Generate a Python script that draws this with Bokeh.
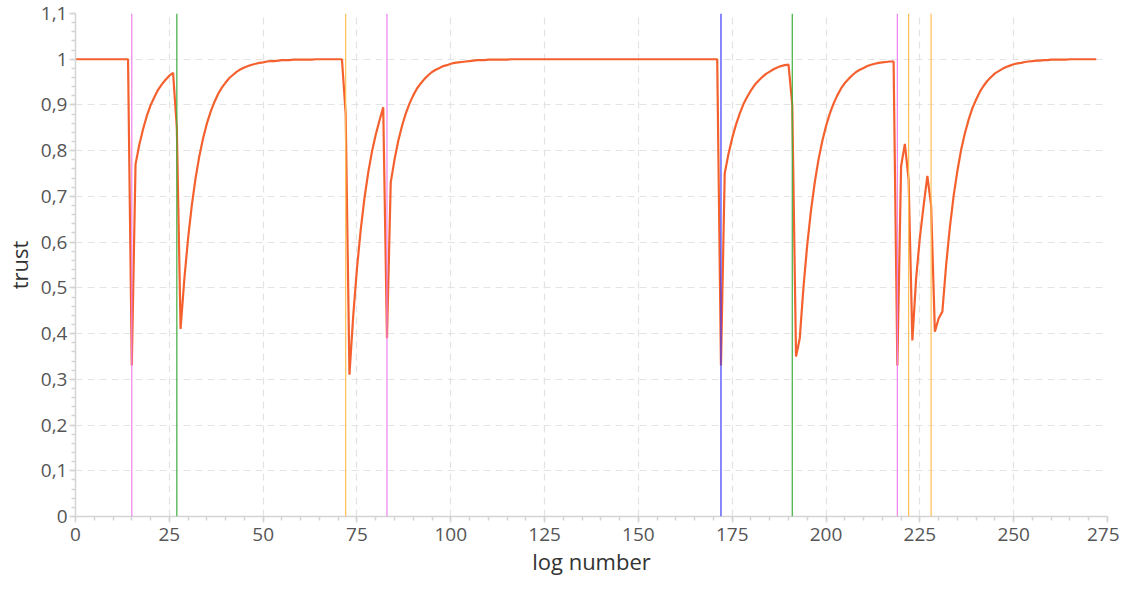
from bokeh.plotting import figure
from bokeh.models import Range1d, FixedTicker, Span
from bokeh.embed import file_html
from bokeh.resources import INLINE

# ---- data ----
trust = (
    [1.0] * 15
    + [0.33, 0.77, 0.813, 0.847, 0.876, 0.899, 0.917, 0.933, 0.945, 0.955,
       0.964, 0.970, 0.85, 0.41, 0.519]
    + [0.608, 0.681, 0.740, 0.788, 0.827, 0.859, 0.885, 0.906, 0.924, 0.938,
       0.949, 0.959, 0.966, 0.973, 0.978, 0.982, 0.985, 0.988, 0.990, 0.992,
       0.993, 0.995, 0.996, 0.996, 0.997, 0.998, 0.998, 0.998, 0.999, 0.999,
       0.999, 0.999, 0.999, 0.999]
    + [1.0] * 8
    + [0.88, 0.31, 0.438, 0.542, 0.627, 0.696, 0.752, 0.798]
    + [0.835, 0.866, 0.895, 0.39, 0.73, 0.780, 0.821, 0.854, 0.881, 0.903]
    + [0.921, 0.936, 0.947, 0.957, 0.965, 0.972, 0.977, 0.981, 0.985, 0.987]
    + [0.990, 0.992, 0.993, 0.994, 0.995, 0.996, 0.997, 0.998, 0.998, 0.998]
    + [0.999] * 6
    + [1.0] * 56
    + [0.33, 0.75, 0.793, 0.828, 0.857, 0.881, 0.902, 0.918]
    + [0.932, 0.944, 0.953, 0.961, 0.968, 0.973, 0.978, 0.982, 0.985, 0.987]
    + [0.988, 0.90, 0.35, 0.39, 0.503, 0.595, 0.670, 0.731, 0.781, 0.821]
    + [0.854, 0.881, 0.903, 0.921, 0.936, 0.948, 0.957, 0.965, 0.972, 0.977]
    + [0.981, 0.985, 0.988, 0.990, 0.992, 0.993, 0.994, 0.995, 0.995, 0.33]
    + [0.766, 0.815, 0.737, 0.385, 0.52, 0.61, 0.68, 0.745, 0.68, 0.404]
    + [0.433, 0.448, 0.550, 0.633, 0.701, 0.756, 0.802, 0.838, 0.868, 0.893]
    + [0.912, 0.929, 0.942, 0.953, 0.961, 0.969, 0.974, 0.979, 0.983, 0.986]
    + [0.989, 0.991, 0.992, 0.994, 0.995, 0.996, 0.997, 0.997, 0.998, 0.998]
    + [0.999] * 5
    + [1.0] * 8
)
log_number = list(range(len(trust)))

event_x = [15, 27, 72, 83, 172, 191, 219, 222, 228]
event_color = ["#ee82ee", "#3fae3f", "#ffbe55", "#ee82ee", "#3b3bff",
               "#3fae3f", "#ee82ee", "#ffbe55", "#ffbe55"]

x_ticks = [0, 25, 50, 75, 100, 125, 150, 175, 200, 225, 250, 275]
x_tick_labels = ["0", "25", "50", "75", "100", "125", "150", "175", "200",
                 "225", "250", "275"]
y_ticks = [0, 0.1, 0.2, 0.3, 0.4, 0.5, 0.6, 0.7, 0.8, 0.9, 1.0, 1.1]
y_tick_labels = ["0", "0,1", "0,2", "0,3", "0,4", "0,5", "0,6", "0,7", "0,8",
                 "0,9", "1", "1,1"]

FONT = "Open Sans"
GRID = "#e3e3e3"
AXIS = "#d4d4d4"
TXT = "#555555"

p = figure(width=1119, height=580, output_backend="svg", toolbar_location=None,
           x_range=Range1d(0, 275), y_range=Range1d(0, 1.1),
           min_border_left=75, min_border_right=12, min_border_top=13,
           min_border_bottom=64)
p.outline_line_color = None
p.background_fill_color = "white"
p.border_fill_color = "white"

x_minor = [v for v in range(0, 276, 5)]
y_minor = [round(i * 0.02, 2) for i in range(0, 56)]
p.xaxis.ticker = FixedTicker(ticks=x_ticks, minor_ticks=x_minor)
p.yaxis.ticker = FixedTicker(ticks=y_ticks, minor_ticks=y_minor)
p.xaxis.major_label_overrides = {t: l for t, l in zip(x_ticks, x_tick_labels)}
p.yaxis.major_label_overrides = {t: l for t, l in zip(y_ticks, y_tick_labels)}

for ax in (p.xaxis, p.yaxis):
    ax.axis_line_color = AXIS
    ax.axis_line_width = 1.5
    ax.major_tick_line_color = AXIS
    ax.minor_tick_line_color = AXIS
    ax.major_tick_line_width = 1.5
    ax.minor_tick_line_width = 1.5
    ax.major_tick_out = 6
    ax.major_tick_in = 0
    ax.minor_tick_out = 4
    ax.minor_tick_in = 0
    ax.major_label_text_font = FONT
    ax.major_label_text_font_size = "19px"
    ax.major_label_text_color = TXT
    ax.axis_label_text_font = FONT
    ax.axis_label_text_font_size = "22px"
    ax.axis_label_text_font_style = "normal"
    ax.axis_label_text_color = "#333333"

p.xaxis.axis_label = "log number"
p.yaxis.axis_label = "trust"
p.xaxis.major_label_standoff = 5
p.yaxis.major_label_standoff = 2
p.xaxis.axis_label_standoff = 2
p.yaxis.axis_label_standoff = 4

for g in (p.xgrid, p.ygrid):
    g.grid_line_color = GRID
    g.grid_line_dash = "7 5"
    g.grid_line_width = 1.2
p.xgrid.ticker = FixedTicker(ticks=x_ticks)
p.ygrid.ticker = FixedTicker(ticks=y_ticks)

for ex, ec in zip(event_x, event_color):
    p.add_layout(Span(location=ex, dimension="height", line_color=ec,
                      line_width=1.2))

p.line(log_number, trust, line_color="#f4612f", line_width=2.2)

open("out.html", "w").write(file_html(p, INLINE))
